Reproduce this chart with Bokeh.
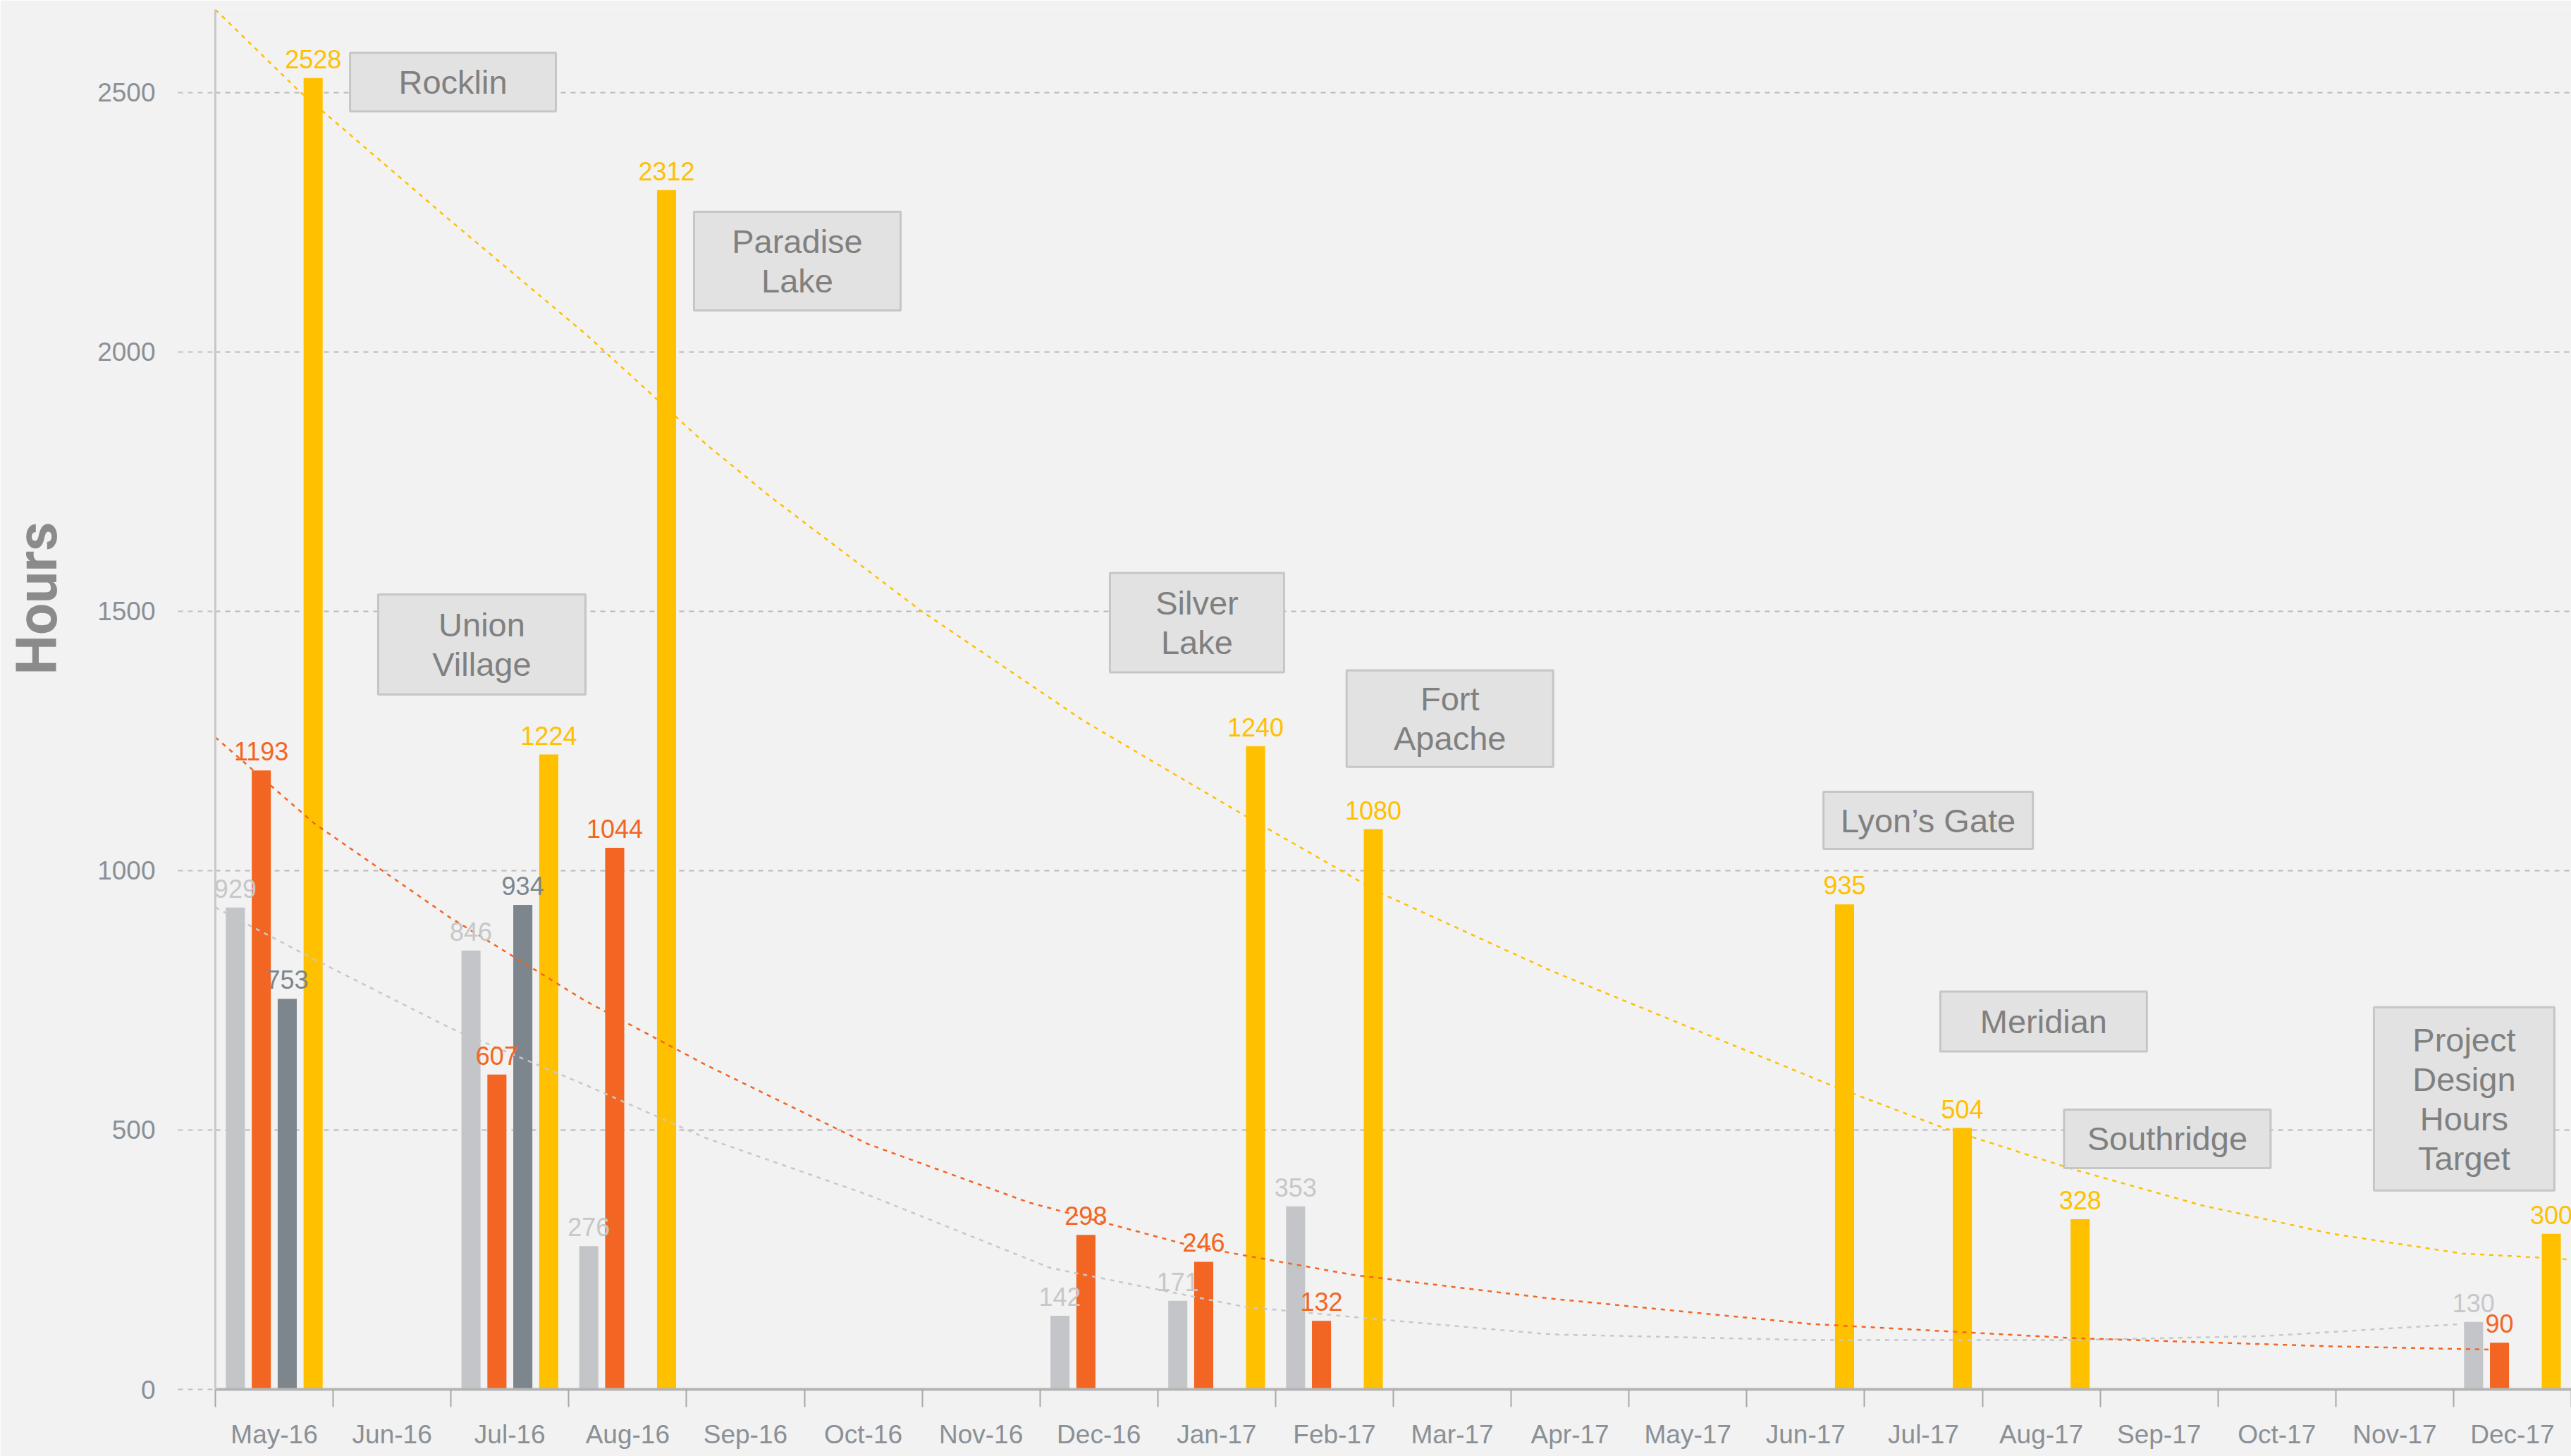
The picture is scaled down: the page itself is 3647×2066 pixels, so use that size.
from bokeh.plotting import figure
from bokeh.models import ColumnDataSource, Range1d, FixedTicker, Title
from bokeh.transform import dodge
from bokeh.core.properties import value
from bokeh.embed import file_html
from bokeh.resources import INLINE

# ---------------- data ----------------
months = ["May-16", "Jun-16", "Jul-16", "Aug-16", "Sep-16", "Oct-16", "Nov-16",
          "Dec-16", "Jan-17", "Feb-17", "Mar-17", "Apr-17", "May-17", "Jun-17",
          "Jul-17", "Aug-17", "Sep-17", "Oct-17", "Nov-17", "Dec-17"]
N = None
series_light_gray = [929, N, 846, 276, N, N, N, 142, 171, 353, N, N, N, N, N, N, N, N, N, 130]
series_orange     = [1193, N, 607, 1044, N, N, N, 298, 246, 132, N, N, N, N, N, N, N, N, N, 90]
series_dark_gray  = [753, N, 934, N, N, N, N, N, N, N, N, N, N, N, N, N, N, N, N, N]
series_yellow     = [2528, N, 1224, 2312, N, N, N, N, 1240, 1080, N, N, N, 935, 504, 328, N, N, N, 300]

# trend lines (x in month units from start of May-16, y in hours)
trend_yellow_x = [0.0, 0.71, 1.99, 3.14, 4.16, 4.71, 5.99, 7.37, 8.74, 9.88, 11.34, 13.72, 14.66, 15.76, 16.86, 17.97, 19.07, 19.74, 20.0]
trend_yellow_y = [2660, 2503, 2254, 2035, 1823, 1721, 1501, 1289, 1106, 958, 807, 586, 505, 425, 355, 300, 262, 254, 250]
trend_orange_x = [0.0, 0.84, 1.99, 3.14, 4.16, 5.54, 6.91, 8.28, 9.65, 11.34, 13.55, 15.76, 17.97, 19.46]
trend_orange_y = [1257, 1091, 910, 749, 626, 473, 360, 277, 221, 175, 126, 99, 83, 76]
trend_gray_x = [0.0, 0.84, 1.99, 3.14, 4.16, 5.54, 7.09, 8.74, 9.88, 11.34, 13.55, 15.76, 17.41, 19.07]
trend_gray_y = [929, 829, 697, 587, 485, 375, 234, 159, 135, 106, 95, 95, 103, 126]

project_names = ["Rocklin", "Paradise\nLake", "Union\nVillage", "Silver\nLake", "Fort\nApache",
                 "Lyon\u2019s Gate", "Meridian", "Southridge", "Project\nDesign\nHours\nTarget"]

y_ticks = [0, 500, 1000, 1500, 2000, 2500]

# ---------------- layout / style ----------------
BG = "#f2f2f2"
C_LGRAY = "#c4c5c8"
C_ORANGE = "#f26522"
C_DGRAY = "#7c868c"
C_YELLOW = "#ffc000"
LBL_LGRAY = "#c6c7ca"
TICK_COLOR = "#8a9096"
FONT = "Liberation Sans"

# annotation box centers (x in month units, y in hours) and pixel sizes
box_layout = [
    (1.517, 2520, 292, 83),
    (4.44, 2175, 293, 140),
    (1.762, 1436, 294, 142),
    (7.833, 1478, 247, 141),
    (9.98, 1293, 293, 137),
    (14.04, 1097, 297, 81),
    (15.02, 709, 293, 85),
    (16.07, 483, 293, 83),
    (18.59, 560, 256, 260),
]

W, H = 3647, 2066
p = figure(width=W, height=H, output_backend="svg", toolbar_location=None,
           x_range=Range1d(-0.5, 19.5),
           y_range=Range1d(0, 2660),
           min_border_left=305, min_border_right=0, min_border_top=13,
           min_border_bottom=95)
p.background_fill_color = BG
p.border_fill_color = BG
p.outline_line_color = None

# grid
p.xgrid.visible = False
p.ygrid.ticker = FixedTicker(ticks=y_ticks[1:])
p.ygrid.grid_line_color = "#b8b8b8"
p.ygrid.grid_line_dash = "7 7"
p.ygrid.grid_line_width = 2

# y axis
p.yaxis.ticker = FixedTicker(ticks=y_ticks)
p.yaxis.axis_line_color = "#c8c8c8"
p.yaxis.axis_line_width = 3
p.yaxis.major_tick_out = 53
p.yaxis.major_tick_in = 0
p.yaxis.major_tick_line_color = "#c0c0c0"
p.yaxis.major_tick_line_dash = "7 7"
p.yaxis.major_tick_line_width = 2
p.yaxis.minor_tick_line_color = None
p.yaxis.major_label_standoff = 32
p.yaxis.major_label_text_font = FONT
p.yaxis.major_label_text_font_size = "37px"
p.yaxis.major_label_text_color = TICK_COLOR
# blank spacer label so the "Hours" title sits further out
p.yaxis.axis_label = " "
p.yaxis.axis_label_text_font_size = "1px"
p.yaxis.axis_label_standoff = 25

# x axis: labels at month centres, tick marks at month boundaries
p.xaxis.ticker = FixedTicker(ticks=list(range(len(months))),
                             minor_ticks=[k - 0.5 for k in range(len(months) + 1)])
p.xaxis.major_label_overrides = {k: m for k, m in enumerate(months)}
p.xaxis.axis_line_color = "#b4b4b4"
p.xaxis.axis_line_width = 4
p.xaxis.major_tick_out = 0
p.xaxis.major_tick_in = 0
p.xaxis.minor_tick_out = 25
p.xaxis.minor_tick_in = 0
p.xaxis.minor_tick_line_color = "#a8a8a8"
p.xaxis.minor_tick_line_width = 2
p.xaxis.major_label_standoff = 18
p.xaxis.major_label_text_font = FONT
p.xaxis.major_label_text_font_size = "37px"
p.xaxis.major_label_text_color = TICK_COLOR

series = [
    (series_light_gray, -0.33, C_LGRAY, LBL_LGRAY),
    (series_orange, -0.11, C_ORANGE, C_ORANGE),
    (series_dark_gray, 0.11, C_DGRAY, C_DGRAY),
    (series_yellow, 0.33, C_YELLOW, C_YELLOW),
]

label_sources = []
for vals, off, col, lcol in series:
    xs = [i for i, v in enumerate(vals) if v is not None]
    tops = [v for v in vals if v is not None]
    src = ColumnDataSource(dict(x=xs, top=tops, label=[str(v) for v in tops]))
    p.vbar(x=dodge("x", off, range=p.x_range), top="top", bottom=0, width=0.162,
           source=src, fill_color=col, line_color=None)
    label_sources.append((src, off, lcol))

# trend lines
for tx, ty, col in [(trend_gray_x, trend_gray_y, "#c8c8c8"),
                    (trend_orange_x, trend_orange_y, C_ORANGE),
                    (trend_yellow_x, trend_yellow_y, C_YELLOW)]:
    p.line([x - 0.5 for x in tx], ty, line_color=col, line_dash="6 7", line_width=2.5)

# value labels
for src, off, lcol in label_sources:
    p.text(x=dodge("x", off, range=p.x_range), y="top", text="label", source=src,
           text_align="center", text_baseline="bottom", y_offset=-14,
           text_color=lcol, text_font=value(FONT), text_font_size="36px")

# project annotation boxes
bsrc = ColumnDataSource(dict(
    x=[b[0] for b in box_layout], y=[b[1] for b in box_layout],
    w=[b[2] for b in box_layout], h=[b[3] for b in box_layout],
    name=project_names))
p.rect(x="x", y="y", width="w", height="h", width_units="screen", height_units="screen",
       source=bsrc, fill_color="#e2e2e2", line_color="#c6c6c6", line_width=3)
p.text(x="x", y="y", text="name", source=bsrc, text_align="center",
       text_baseline="middle", text_color="#808080", text_font=value(FONT),
       text_font_size="47px", text_line_height=1.06)

# y axis title
p.add_layout(Title(text="Hours", align="left", offset=1014, vertical_align="top",
                   text_font="Roboto", text_font_style="bold",
                   text_font_size="80px", text_color="#8b8b8b"), "left")

open("out.html", "w").write(file_html(p, INLINE))
